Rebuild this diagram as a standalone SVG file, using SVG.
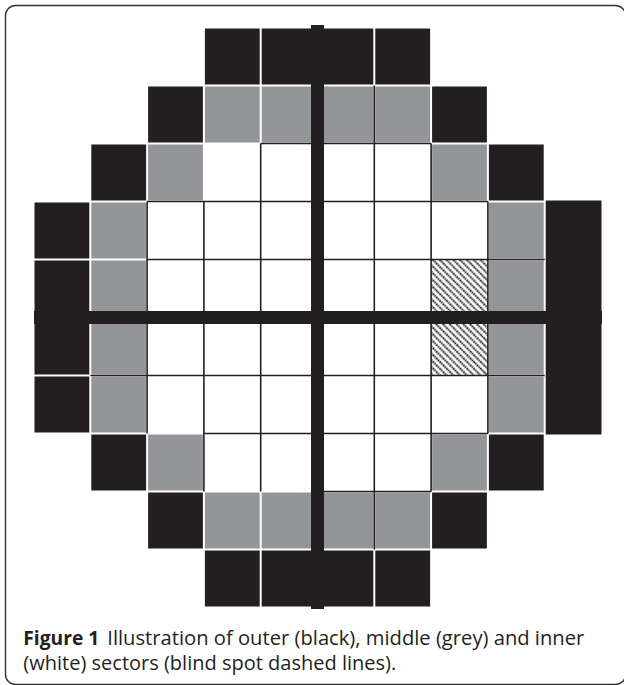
<svg xmlns="http://www.w3.org/2000/svg" width="624" height="685" viewBox="0 0 624 685">
<style>
.b{fill:#231f20}
.g{fill:#939598}
.h{fill:url(#hatch)}
.ln{stroke:#231f20;stroke-width:1.6;fill:none}
.cap{font-family:"Open Sans","Noto Sans","Liberation Sans",sans-serif;font-size:20px;fill:#231f20}
</style>
<defs>
<pattern id="hatch" width="4.8" height="4.8" patternUnits="userSpaceOnUse" patternTransform="rotate(45)">
<rect width="4.8" height="4.8" fill="#fff"/>
<line x1="0" y1="2.4" x2="4.8" y2="2.4" stroke="#231f20" stroke-width="2" stroke-dasharray="1.8 0.6"/>
</pattern>
</defs>
<rect width="624" height="685" fill="#fff"/>
<rect id="frame" x="5.5" y="5.5" width="620" height="679" rx="10" fill="none" stroke="#333" stroke-width="1.4"/>
<g id="outer">
<rect class="b" x="204.9" y="28.5" width="54.8" height="56"/>
<rect class="b" x="261.7" y="28.5" width="54.8" height="56"/>
<rect class="b" x="318.5" y="28.5" width="54.8" height="56"/>
<rect class="b" x="375.3" y="28.5" width="54.8" height="56"/>
<rect class="b" x="148.1" y="86.5" width="54.8" height="56"/>
<rect class="b" x="432.1" y="86.5" width="54.8" height="56"/>
<rect class="b" x="91.3" y="144.5" width="54.8" height="56"/>
<rect class="b" x="488.9" y="144.5" width="54.8" height="56"/>
<rect class="b" x="34.5" y="202.5" width="54.8" height="56"/>
<rect class="b" x="34.5" y="260.5" width="54.8" height="56"/>
<rect class="b" x="34.5" y="318.5" width="54.8" height="56"/>
<rect class="b" x="34.5" y="376.5" width="54.8" height="56"/>
<rect class="b" x="545.7" y="200.5" width="55.8" height="234"/>
<rect class="b" x="91.3" y="434.5" width="54.8" height="56"/>
<rect class="b" x="488.9" y="434.5" width="54.8" height="56"/>
<rect class="b" x="148.1" y="492.5" width="54.8" height="56"/>
<rect class="b" x="432.1" y="492.5" width="54.8" height="56"/>
<rect class="b" x="204.9" y="550.5" width="54.8" height="56"/>
<rect class="b" x="261.7" y="550.5" width="54.8" height="56"/>
<rect class="b" x="318.5" y="550.5" width="54.8" height="56"/>
<rect class="b" x="375.3" y="550.5" width="54.8" height="56"/>
</g>
<g id="middle">
<rect class="g" x="204.9" y="86.5" width="54.8" height="56"/>
<rect class="g" x="261.7" y="86.5" width="54.8" height="56"/>
<rect class="g" x="318.5" y="86.5" width="54.8" height="56"/>
<rect class="g" x="375.3" y="86.5" width="54.8" height="56"/>
<rect class="g" x="148.1" y="144.5" width="54.8" height="56"/>
<rect class="g" x="432.1" y="144.5" width="54.8" height="56"/>
<rect class="g" x="91.3" y="202.5" width="54.8" height="56"/>
<rect class="g" x="91.3" y="260.5" width="54.8" height="56"/>
<rect class="g" x="91.3" y="318.5" width="54.8" height="56"/>
<rect class="g" x="91.3" y="376.5" width="54.8" height="56"/>
<rect class="g" x="488.9" y="202.5" width="54.8" height="56"/>
<rect class="g" x="488.9" y="260.5" width="54.8" height="56"/>
<rect class="g" x="488.9" y="318.5" width="54.8" height="56"/>
<rect class="g" x="488.9" y="376.5" width="54.8" height="56"/>
<rect class="g" x="148.1" y="434.5" width="54.8" height="56"/>
<rect class="g" x="432.1" y="434.5" width="54.8" height="56"/>
<rect class="g" x="204.9" y="492.5" width="54.8" height="56"/>
<rect class="g" x="261.7" y="492.5" width="54.8" height="56"/>
<rect class="g" x="318.5" y="492.5" width="54.8" height="56"/>
<rect class="g" x="375.3" y="492.5" width="54.8" height="56"/>
</g>
<g id="blindspot">
<rect class="h" x="431.1" y="259.5" width="56.8" height="58"/>
<rect class="h" x="431.1" y="317.5" width="56.8" height="58"/>
</g>
<g id="inner-lines">
<path class="ln" d="M147.1 201.5V433.5M203.9 201.5V491.5M260.7 143.5V491.5M374.3 85.5V549.5M431.1 143.5V491.5M487.9 201.5V433.5"/>
<path class="ln" d="M260.7 143.5H431.1M147.1 201.5H487.9M147.1 259.5H544.7M90.3 375.5H544.7M203.9 433.5H487.9M317.5 491.5H431.1"/>
</g>
<g id="axes">
<rect class="b" x="311" y="25" width="13" height="584"/>
<rect class="b" x="34" y="311" width="568" height="13"/>
</g>
<g id="caption">
<text class="cap" x="23.3" y="645" font-weight="bold" textLength="76" lengthAdjust="spacingAndGlyphs">Figure 1</text>
<text class="cap" x="107.3" y="645" textLength="477" lengthAdjust="spacingAndGlyphs">Illustration of outer (black), middle (grey) and inner</text>
<text class="cap" x="23.3" y="670" textLength="373" lengthAdjust="spacingAndGlyphs">(white) sectors (blind spot dashed lines).</text>
</g>
</svg>
